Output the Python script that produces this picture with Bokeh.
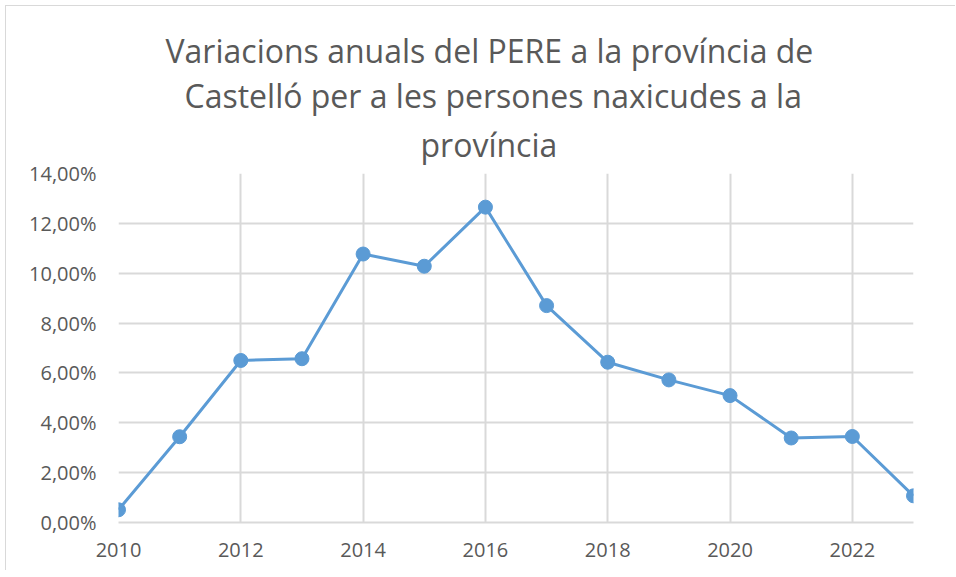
from bokeh.plotting import figure
from bokeh.models import Title, FixedTicker, Range1d
from bokeh.embed import file_html
from bokeh.resources import INLINE

years = list(range(2010, 2024))
values = [0.51, 3.44, 6.50, 6.57, 10.77, 10.28, 12.65, 8.70, 6.43, 5.72, 5.09, 3.39, 3.45, 1.07]
y_ticks = [0, 2, 4, 6, 8, 10, 12, 14]
y_tick_labels = ["0,00%", "2,00%", "4,00%", "6,00%", "8,00%", "10,00%", "12,00%", "14,00%"]
x_ticks = [2010, 2012, 2014, 2016, 2018, 2020, 2022]
title_lines = [
    "Variacions anuals del PERE a la província de",
    "Castelló per a les persones naxicudes a la",
    "província",
]

FONT = "Open Sans"
GRAY = "#595959"
GRID = "#d9d9d9"
BLUE = "#5b9bd5"

p = figure(width=950, height=565, output_backend="svg", toolbar_location=None,
           x_range=Range1d(2010, 2023), y_range=Range1d(0, 14),
           min_border_left=112, min_border_right=43, min_border_top=167, min_border_bottom=49)
p.outline_line_color = None
p.background_fill_color = "white"
p.border_fill_color = "white"

# left offsets (px from plot frame) so each line is centred on the chart area
title_offsets = [47, 66, 302]
title_standoffs = [0, 0, 12]
title_valign = ["bottom", "bottom", "top"]
for line, off, so, va in reversed(list(zip(title_lines, title_offsets, title_standoffs, title_valign))):
    p.add_layout(Title(text=line, align="left", offset=off, standoff=so, vertical_align=va,
                       text_font=FONT, text_font_size="32px", text_font_style="normal",
                       text_color=GRAY), "above")

p.line(years, values, line_color=BLUE, line_width=3)
p.scatter(years, values, size=14, fill_color=BLUE, line_color=BLUE)

p.xaxis.ticker = FixedTicker(ticks=x_ticks)
p.yaxis.ticker = FixedTicker(ticks=y_ticks)
p.yaxis.major_label_overrides = {t: s for t, s in zip(y_ticks, y_tick_labels)}

for ax in (p.xaxis, p.yaxis):
    ax.major_label_text_font = FONT
    ax.major_label_text_font_size = "20px"
    ax.major_label_text_color = GRAY
    ax.major_tick_line_color = None
    ax.minor_tick_line_color = None
p.xaxis.axis_line_color = GRID
p.xaxis.axis_line_width = 2
p.yaxis.axis_line_color = None
p.yaxis.major_label_standoff = 16
p.xaxis.major_label_standoff = 14

p.xgrid.ticker = FixedTicker(ticks=x_ticks)
p.xgrid.grid_line_color = GRID
p.xgrid.grid_line_width = 2
p.ygrid.grid_line_color = GRID
p.ygrid.grid_line_width = 2

p.styles = {"margin-left": "5px", "margin-top": "5px",
            "border-left": "1px solid #d9d9d9", "border-top": "1px solid #d9d9d9"}

open("out.html", "w").write(file_html(p, INLINE))
